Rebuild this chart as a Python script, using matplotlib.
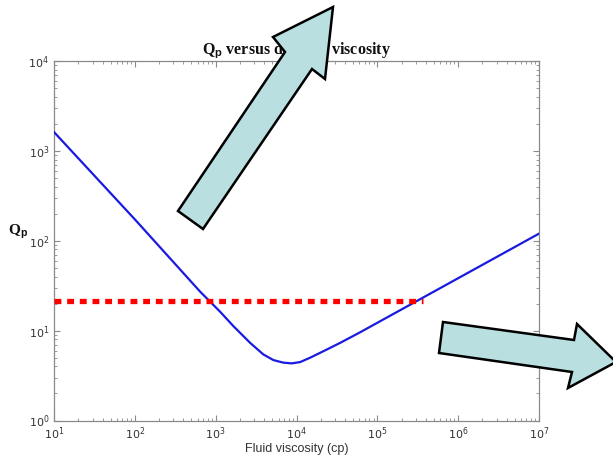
import matplotlib
matplotlib.use("Agg")
import matplotlib.pyplot as plt
from matplotlib.patches import Polygon

# values
viscosity_cp = [10, 100, 641, 1130, 1660, 2670, 3890, 5180, 6890, 8750, 11100,
                14700, 21500, 34700, 61200, 108000, 1000000, 10000000]
qp_values = [1620, 173, 27.2, 16.3, 11.2, 7.31, 5.43, 4.70, 4.40, 4.32, 4.47,
             4.99, 5.90, 7.31, 9.58, 12.7, 38.3, 120]
threshold_x = [10, 370000]
threshold_qp = [21.2, 21.2]

W, H = 613, 458
plt.rcParams["mathtext.fontset"] = "custom"
plt.rcParams["mathtext.rm"] = "Liberation Sans"
plt.rcParams["mathtext.it"] = "Liberation Sans:italic"
plt.rcParams["mathtext.bf"] = "Liberation Sans:bold"

fig = plt.figure(figsize=(W / 100, H / 100), dpi=100)
ax = fig.add_axes([54 / W, 1 - 420.5 / H, (539 - 54) / W, (420.5 - 61) / H])

ax.plot(viscosity_cp, qp_values, color="#1a1ae0", linewidth=1.6,
        solid_joinstyle="round", zorder=3)
ax.plot(threshold_x, threshold_qp, color="#ff0000", linewidth=3.8,
        dashes=(1.3, 1.1), dash_capstyle="butt", zorder=4)

ax.set_xscale("log")
ax.set_yscale("log")
ax.set_xlim(10, 1e7)
ax.set_ylim(1, 1e4)

for spine in ax.spines.values():
    spine.set_color("#8a8a8a")
    spine.set_linewidth(0.9)
ax.tick_params(which="both", direction="in", top=True, right=True,
               color="#8a8a8a", labelcolor="#333333", labelsize=8)
ax.tick_params(which="major", length=4)
ax.tick_params(which="minor", length=2)

ax.set_xlabel("Fluid viscosity (cp)", fontsize=9, family="Liberation Sans",
              color="#333333", labelpad=1)
ax.set_ylabel("Q$_\\mathbf{p}$", fontsize=11, family="Liberation Serif",
              fontweight="bold", rotation=0, color="#111111")
ax.yaxis.set_label_coords(-0.075, 0.5)
ax.set_title("Q$_\\mathbf{p}$ versus dead oil viscosity", fontsize=11.5,
             family="Liberation Serif", fontweight="bold", color="#111111", pad=5)


def to_fig(points):
    return [(x / W, 1 - y / H) for x, y in points]


arrow_up = [(178, 211), (285, 52), (273, 37), (333, 7), (325, 79), (312, 69), (203, 229)]
arrow_right = [(443, 322), (574, 340), (577, 324), (616, 362), (568, 388), (572, 372), (439, 353)]
for shape in (arrow_up, arrow_right):
    fig.patches.append(Polygon(to_fig(shape), closed=True, transform=fig.transFigure,
                               facecolor="#b9dfe1", edgecolor="black", linewidth=1.8,
                               zorder=10))

fig.savefig("out.png", dpi=100)
